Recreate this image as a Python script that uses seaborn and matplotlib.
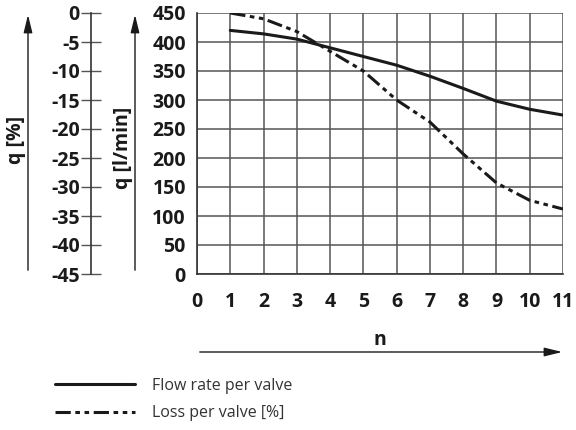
import matplotlib
matplotlib.use("Agg")
import matplotlib.pyplot as plt
from matplotlib import font_manager
import pandas as pd
import seaborn as sns

# values
valves = [1, 2, 3, 4, 5, 6, 7, 8, 9, 10, 11]
flow_rate = [420, 414, 405, 390, 375, 360, 341, 320, 298, 284, 274]
loss_curve = [450, 440, 418, 384, 350, 300, 262, 207, 157, 127, 112]

x_ticks = list(range(0, 12))
q_ticks = list(range(0, 451, 50))
pct_ticks = list(range(0, -46, -5))

sns.set_style("white")
# pick a family that has a real bold face
bold_fams = {f.name for f in font_manager.fontManager.ttflist if f.weight in (700, "bold")}
fam = "DejaVu Sans"
for cand in ["Open Sans", "Lato", "Noto Sans", "Roboto", "DejaVu Sans"]:
    if cand in bold_fams:
        fam = cand
        break
plt.rcParams["font.family"] = [fam, "DejaVu Sans"]
plt.rcParams["axes.unicode_minus"] = False

W, H = 576, 430
INK = "#1a1a1a"
fig = plt.figure(figsize=(W / 100, H / 100), dpi=100)
ax = fig.add_axes([197 / W, 1 - 274 / H, (563 - 197) / W, (274 - 13) / H])

df = pd.DataFrame({"n": valves, "flow": flow_rate, "loss": loss_curve})
sns.lineplot(data=df, x="n", y="flow", ax=ax, color=INK, lw=2.2,
             label="Flow rate per valve", zorder=3)
sns.lineplot(data=df, x="n", y="loss", ax=ax, color=INK, lw=2.2,
             linestyle=(0, (5, 1.5, 1.5, 1.5, 1.5, 1.5)),
             label="Loss per valve [%]", zorder=3)

ax.set_xlim(0, 11)
ax.set_ylim(0, 450)
ax.set_xticks(x_ticks)
ax.set_yticks(q_ticks)
ax.set_xlabel("")
ax.set_ylabel("")
ax.grid(True, color="#555555", lw=1.1)
for s in ["top", "right"]:
    ax.spines[s].set_visible(False)
for s in ["left", "bottom"]:
    ax.spines[s].set_color("#333333")
    ax.spines[s].set_linewidth(1.2)
tick_font = {"family": [fam, "DejaVu Sans"], "weight": "bold", "size": 14}
ax.tick_params(axis="y", direction="inout", length=14, width=1, color="#555555", pad=1)
ax.tick_params(axis="x", direction="inout", length=16, width=1, color="#555555", pad=5)
ax.set_xticklabels([str(t) for t in x_ticks], fontdict=tick_font, color=INK)
ax.set_yticklabels([str(t) for t in q_ticks], fontdict=tick_font, color=INK)

# percent scale on the far left
sec = ax.secondary_yaxis((91 - 197) / (563 - 197),
                         functions=(lambda q: (q - 450) / 10, lambda p: p * 10 + 450))
sec.set_yticks(pct_ticks)
sec.set_yticklabels([str(t) for t in pct_ticks], fontdict=tick_font, color=INK)
sec.spines["left"].set_color("#333333")
sec.spines["left"].set_linewidth(1.2)
sec.tick_params(axis="y", direction="inout", length=14, width=1, color="#555555", pad=1)


def arrow(p0, p1):
    fig.add_artist(matplotlib.patches.FancyArrowPatch(
        (p0[0] / W, 1 - p0[1] / H), (p1[0] / W, 1 - p1[1] / H),
        transform=fig.transFigure, arrowstyle="-|>,head_length=0.9,head_width=0.22",
        color=INK, lw=1, mutation_scale=12))


arrow((28, 273), (28, 12))
arrow((135, 273), (135, 12))
arrow((197, 352), (565, 352))

fig.text(16 / W, 1 - 140 / H, "q [%]", rotation=90, ha="center", va="center",
         fontsize=14, fontweight="bold", color=INK)
fig.text(123 / W, 1 - 148 / H, "q [l/min]", rotation=90, ha="center", va="center",
         fontsize=14, fontweight="bold", color=INK)
fig.text(380 / W, 1 - 340 / H, "n", ha="center", va="center",
         fontsize=14, fontweight="bold", color=INK)

handles, labels = ax.get_legend_handles_labels()
ax.get_legend().remove()
leg = fig.legend(handles, labels, loc="upper left", bbox_to_anchor=(47 / W, 1 - 370 / H),
                 frameon=False, fontsize=11.5, handlelength=5.0, handletextpad=1.1,
                 labelspacing=0.7, borderpad=0)
for t in leg.get_texts():
    t.set_color("#333333")

fig.savefig("out.png", dpi=100)
